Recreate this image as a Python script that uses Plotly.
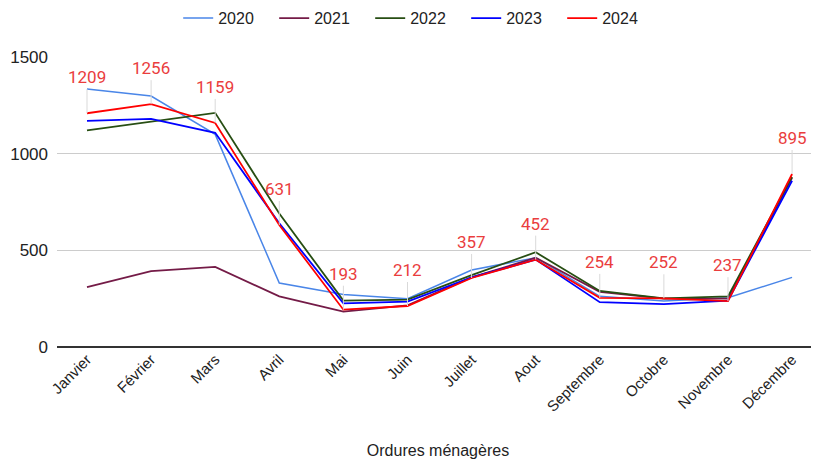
import plotly.graph_objects as go

months = ["Janvier", "Février", "Mars", "Avril", "Mai", "Juin", "Juillet",
          "Aout", "Septembre", "Octobre", "Novembre", "Décembre"]

y2020 = [1335, 1298, 1100, 331, 272, 250, 398, 462, 262, 238, 255, 360]
y2021 = [310, 393, 414, 262, 183, 215, 360, 462, 285, 250, 250, 875]
y2022 = [1120, 1164, 1211, 690, 240, 245, 372, 490, 290, 252, 262, 880]
y2023 = [1170, 1180, 1108, 640, 226, 235, 360, 452, 232, 222, 240, 860]
y2024 = [1209, 1256, 1159, 631, 193, 212, 357, 452, 254, 252, 237, 895]

series = [
    ("2020", y2020, "#4a86e8", 1.5),
    ("2021", y2021, "#741b47", 1.8),
    ("2022", y2022, "#274e13", 1.8),
    ("2023", y2023, "#0000ff", 1.8),
    ("2024", y2024, "#ff0000", 1.8),
]

AX_FONT = "Liberation Sans, Arial, sans-serif"

fig = go.Figure()
for name, vals, color, w in series:
    fig.add_trace(go.Scatter(x=months, y=vals, name=name, mode="lines",
                             line=dict(color=color, width=w)))

for m, v in zip(months, y2024):
    fig.add_annotation(x=m, y=v, text=str(v), showarrow=True, arrowhead=0,
                       arrowwidth=1, arrowcolor="#d9d9d9", ax=0, ay=-24,
                       yanchor="bottom", standoff=0,
                       font=dict(family="Roboto", size=17, color="#ea3d3d"))

fig.update_layout(
    width=811, height=453,
    margin=dict(l=49, r=0, t=49, b=114, autoexpand=False),
    paper_bgcolor="white", plot_bgcolor="white",
    font=dict(family=AX_FONT, color="#222222"),
    showlegend=True,
    legend=dict(orientation="h", x=0.474, xanchor="center", y=1.134, yanchor="middle",
                font=dict(family=AX_FONT, size=16, color="#222222"), itemwidth=30,
                entrywidth=51, entrywidthmode="pixels",
                traceorder="normal"),
    xaxis=dict(range=[-0.468, 11.42], tickangle=-45, showgrid=False, automargin=False,
               tickfont=dict(family=AX_FONT, size=15, color="#222222"), ticks="",
               title=dict(text="Ordures ménagères",
                          font=dict(family=AX_FONT, size=16, color="#222222"),
                          standoff=30)),
    yaxis=dict(range=[0, 1500], tickvals=[0, 500, 1000, 1500], automargin=False,
               gridcolor="#cccccc", gridwidth=1, zeroline=True,
               zerolinecolor="#333333", zerolinewidth=2,
               tickfont=dict(family=AX_FONT, size=17, color="#222222"), ticks="",
               ticklabelstandoff=8),
)

fig.write_html("out.html")
